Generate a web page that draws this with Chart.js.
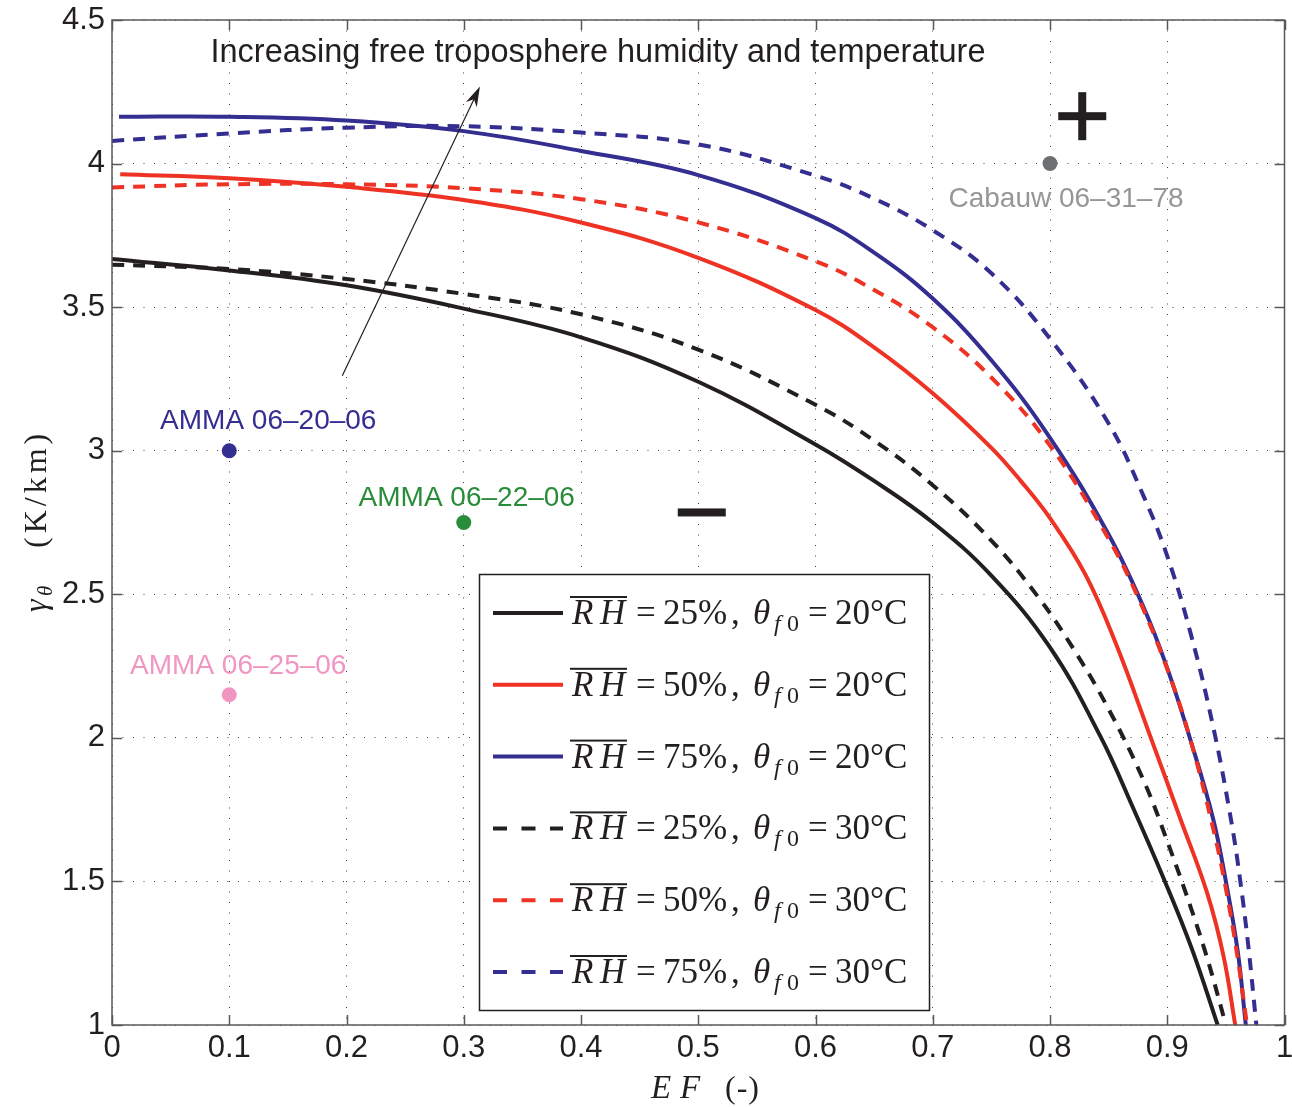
<!DOCTYPE html>
<html lang="en">
<head>
<meta charset="UTF-8">
<title>Lapse rate vs evaporative fraction</title>
<script src="https://cdn.jsdelivr.net/npm/chart.js"></script>
<style>
  body { margin: 0; background: #fff; }
  canvas { display: block; }
</style>
</head>
<body>
<canvas id="chart" width="1292" height="1107"></canvas>
<script>
// axis ticks
const xTickValues = [0, 0.1, 0.2, 0.3, 0.4, 0.5, 0.6, 0.7, 0.8, 0.9, 1];
const xTickLabels = ['0', '0.1', '0.2', '0.3', '0.4', '0.5', '0.6', '0.7', '0.8', '0.9', '1'];
const yTickValues = [1, 1.5, 2, 2.5, 3, 3.5, 4, 4.5];
const yTickLabels = ['1', '1.5', '2', '2.5', '3', '3.5', '4', '4.5'];

// RH = 25%, theta_f0 = 20 C (solid black)
const efRh25T20 = [0, 0.1, 0.2, 0.3, 0.4, 0.5, 0.6, 0.65, 0.7, 0.75, 0.8, 0.843, 0.871, 0.898, 0.921, 0.943];
const gamRh25T20 = [3.668, 3.628, 3.576, 3.495, 3.395, 3.24, 3.022, 2.895, 2.75, 2.565, 2.315, 2.005, 1.755, 1.5, 1.265, 1.0];
// RH = 50%, theta_f0 = 20 C (solid red)
const efRh50T20 = [0.007, 0.1, 0.2, 0.3, 0.4, 0.5, 0.6, 0.65, 0.7, 0.75, 0.775, 0.8, 0.83, 0.856, 0.886, 0.911, 0.934, 0.948, 0.958];
const gamRh50T20 = [3.963, 3.949, 3.919, 3.873, 3.795, 3.672, 3.49, 3.36, 3.2, 3.01, 2.895, 2.765, 2.57, 2.33, 2.0, 1.72, 1.46, 1.24, 1.0];
// RH = 75%, theta_f0 = 20 C (solid blue)
const efRh75T20 = [0.006, 0.1, 0.2, 0.3, 0.4, 0.5, 0.6, 0.65, 0.7, 0.75, 0.8, 0.85, 0.88, 0.9, 0.92, 0.939, 0.95, 0.96, 0.967];
const gamRh75T20 = [4.163, 4.163, 4.15, 4.113, 4.044, 3.96, 3.81, 3.69, 3.53, 3.315, 3.045, 2.708, 2.453, 2.243, 1.99, 1.72, 1.5, 1.26, 1.0];
// RH = 25%, theta_f0 = 30 C (dashed black)
const efRh25T30 = [0, 0.1, 0.2, 0.3, 0.4, 0.5, 0.6, 0.65, 0.7, 0.75, 0.79, 0.82, 0.85, 0.88, 0.9, 0.92, 0.935, 0.95];
const gamRh25T30 = [3.648, 3.633, 3.598, 3.546, 3.475, 3.352, 3.16, 3.035, 2.88, 2.687, 2.49, 2.31, 2.1, 1.85, 1.64, 1.41, 1.22, 1.0];
// RH = 50%, theta_f0 = 30 C (dashed red)
const efRh50T30 = [0, 0.1, 0.2, 0.3, 0.4, 0.5, 0.6, 0.65, 0.7, 0.75, 0.8, 0.85, 0.875, 0.9, 0.92, 0.94, 0.95, 0.96, 0.968];
const gamRh50T30 = [3.917, 3.928, 3.928, 3.914, 3.876, 3.795, 3.66, 3.56, 3.43, 3.255, 3.018, 2.693, 2.49, 2.24, 1.99, 1.67, 1.475, 1.235, 1.0];
// RH = 75%, theta_f0 = 30 C (dashed blue)
const efRh75T30 = [0, 0.1, 0.2, 0.3, 0.4, 0.5, 0.6, 0.65, 0.7, 0.75, 0.8, 0.85, 0.88, 0.9, 0.92, 0.94, 0.955, 0.962, 0.969, 0.976];
const gamRh75T30 = [4.079, 4.105, 4.125, 4.13, 4.108, 4.067, 3.958, 3.878, 3.768, 3.618, 3.39, 3.095, 2.84, 2.633, 2.363, 2.023, 1.7, 1.51, 1.28, 1.0];

const legendRH = [25, 50, 75, 25, 50, 75];
const legendTheta = [20, 20, 20, 30, 30, 30];

// observed cases
const obsNames = ['AMMA 06\u201320\u201306', 'AMMA 06\u201322\u201306', 'AMMA 06\u201325\u201306', 'Cabauw 06\u201331\u201378'];
const obsEF = [0.1, 0.3, 0.1, 0.8];
const obsGamma = [3.0, 2.75, 2.15, 4.0];

const BLACK = '#231f20';
const RED = 'rgb(238,50,36)';
const BLUE = 'rgb(52,46,145)';
const obsColors = [BLUE, 'rgb(40,140,58)', 'rgb(241,150,195)', 'rgb(110,111,114)'];
const obsTextColors = [BLUE, 'rgb(40,140,58)', 'rgb(241,150,195)', 'rgb(150,150,153)'];
const obsLabelOffset = [[39, -22], [3, -17], [9, -21], [16, 43]];

const curves = [
  { ef: efRh25T20, gam: gamRh25T20, color: BLACK, dashed: false },
  { ef: efRh50T20, gam: gamRh50T20, color: RED, dashed: false },
  { ef: efRh75T20, gam: gamRh75T20, color: BLUE, dashed: false },
  { ef: efRh25T30, gam: gamRh25T30, color: BLACK, dashed: true },
  { ef: efRh50T30, gam: gamRh50T30, color: RED, dashed: true },
  { ef: efRh75T30, gam: gamRh75T30, color: BLUE, dashed: true }
];

const datasets = curves.map((c, i) => ({
  label: 'RH=' + legendRH[i] + '%, theta=' + legendTheta[i] + 'C',
  data: c.ef.map((x, j) => ({ x: x, y: c.gam[j] })),
  showLine: true,
  borderColor: c.color,
  borderWidth: 4,
  borderDash: c.dashed ? [12, 9] : [],
  pointRadius: 0,
  tension: 0.4,
  clip: 0,
  order: 10 - i
}));
datasets.push({
  label: 'observations',
  data: obsEF.map((x, j) => ({ x: x, y: obsGamma[j] })),
  showLine: false,
  pointRadius: 7.5,
  pointBorderWidth: 0,
  pointBackgroundColor: obsColors,
  order: 0
});

const serif = '"Liberation Serif", "DejaVu Serif", serif';
const sans = '"Liberation Sans", Arial, sans-serif';

function drawLegendLabel(ctx, L, base, rh, th) {
  ctx.fillStyle = BLACK;
  ctx.textBaseline = 'alphabetic';
  ctx.textAlign = 'left';
  ctx.font = 'italic 35px ' + serif;
  ctx.fillText('R', L + 93, base);
  ctx.fillText('H', L + 121, base);
  ctx.fillRect(L + 91, base - 28, 57, 2);
  ctx.font = '35px ' + serif;
  ctx.fillText('=', L + 157, base);
  ctx.fillText(rh + '%', L + 184, base);
  ctx.fillText(',', L + 252, base);
  ctx.font = 'italic 35px ' + serif;
  ctx.fillText('\u03b8', L + 274, base);
  ctx.font = 'italic 24px ' + serif;
  ctx.fillText('f', L + 295, base + 7);
  ctx.font = '24px ' + serif;
  ctx.fillText('0', L + 308, base + 7);
  ctx.font = '35px ' + serif;
  ctx.fillText('=', L + 329, base);
  ctx.fillText(th + '\u00b0C', L + 356, base);
}

const decorPlugin = {
  id: 'decor',
  afterDatasetsDraw(chart) {
    const ctx = chart.ctx;
    const a = chart.chartArea;
    const xs = chart.scales.x, ys = chart.scales.y;
    ctx.save();

    // axes box with inward ticks
    ctx.strokeStyle = '#58595b';
    ctx.lineWidth = 1.5;
    ctx.strokeRect(a.left, a.top, a.right - a.left, a.bottom - a.top);
    ctx.beginPath();
    xTickValues.forEach(v => {
      const px = Math.round(xs.getPixelForValue(v)) + 0.5;
      ctx.moveTo(px, a.bottom); ctx.lineTo(px, a.bottom - 10);
      ctx.moveTo(px, a.top); ctx.lineTo(px, a.top + 10);
    });
    yTickValues.forEach(v => {
      const py = Math.round(ys.getPixelForValue(v)) + 0.5;
      ctx.moveTo(a.left, py); ctx.lineTo(a.left + 10, py);
      ctx.moveTo(a.right, py); ctx.lineTo(a.right - 10, py);
    });
    ctx.stroke();

    // observation labels
    ctx.font = '28px ' + sans;
    ctx.textAlign = 'center';
    ctx.textBaseline = 'alphabetic';
    obsNames.forEach((name, i) => {
      ctx.fillStyle = obsTextColors[i];
      ctx.fillText(name, xs.getPixelForValue(obsEF[i]) + obsLabelOffset[i][0],
        ys.getPixelForValue(obsGamma[i]) + obsLabelOffset[i][1]);
    });

    // annotation text and arrow
    ctx.fillStyle = BLACK;
    ctx.font = '32.5px ' + sans;
    ctx.fillText('Increasing free troposphere humidity and temperature', 598, 62);
    const x0 = xs.getPixelForValue(0.1964), y0 = ys.getPixelForValue(3.261);
    const x1 = xs.getPixelForValue(0.3138), y1 = ys.getPixelForValue(4.268);
    const ang = Math.atan2(y1 - y0, x1 - x0);
    ctx.strokeStyle = BLACK;
    ctx.lineWidth = 1.2;
    ctx.beginPath();
    ctx.moveTo(x0, y0);
    ctx.lineTo(x1 - 12 * Math.cos(ang), y1 - 12 * Math.sin(ang));
    ctx.stroke();
    ctx.beginPath();
    ctx.moveTo(x1, y1);
    ctx.lineTo(x1 - 20 * Math.cos(ang) + 6 * Math.sin(ang), y1 - 20 * Math.sin(ang) - 6 * Math.cos(ang));
    ctx.lineTo(x1 - 14 * Math.cos(ang), y1 - 14 * Math.sin(ang));
    ctx.lineTo(x1 - 20 * Math.cos(ang) - 6 * Math.sin(ang), y1 - 20 * Math.sin(ang) + 6 * Math.cos(ang));
    ctx.closePath();
    ctx.fill();

    // plus and minus marks
    const pxp = xs.getPixelForValue(0.8275), pyp = ys.getPixelForValue(4.165);
    ctx.fillRect(pxp - 24, pyp - 4, 48, 8);
    ctx.fillRect(pxp - 4, pyp - 24, 8, 48);
    const pxm = xs.getPixelForValue(0.503), pym = ys.getPixelForValue(2.785);
    ctx.fillRect(pxm - 24, pym - 4, 48, 8);

    // legend
    const L = 479, T = 574, R = 929, B = 1010;
    ctx.fillStyle = '#fff';
    ctx.fillRect(L, T, R - L, B - T);
    ctx.strokeStyle = BLACK;
    ctx.lineWidth = 1.5;
    ctx.strokeRect(L + 0.5, T + 0.5, R - L, B - T);
    curves.forEach((c, i) => {
      const y = T + 39 + i * 71.8;
      ctx.beginPath();
      ctx.setLineDash(c.dashed ? [14, 14.5] : []);
      ctx.strokeStyle = c.color;
      ctx.lineWidth = 4;
      ctx.moveTo(L + 14, y);
      ctx.lineTo(L + 84, y);
      ctx.stroke();
      ctx.setLineDash([]);
      drawLegendLabel(ctx, L, y + 11, legendRH[i], legendTheta[i]);
    });

    // axis titles
    ctx.fillStyle = BLACK;
    ctx.textAlign = 'left';
    ctx.font = 'italic 33px ' + serif;
    ctx.fillText('E', 651, 1098);
    ctx.fillText('F', 680, 1098);
    ctx.font = '32px ' + serif;
    ctx.letterSpacing = '1px';
    ctx.fillText('(-)', 725, 1098);
    ctx.letterSpacing = '0px';

    ctx.save();
    ctx.translate(46, 612);
    ctx.rotate(-Math.PI / 2);
    ctx.font = 'italic 32px ' + serif;
    ctx.fillText('\u03b3', 0, 0);
    ctx.font = 'italic 21px ' + serif;
    ctx.fillText('\u03b8', 16, 6);
    ctx.font = '32px ' + serif;
    ctx.letterSpacing = '4px';
    ctx.fillText('(K/km)', 64, 0);
    ctx.restore();

    ctx.restore();
  }
};

new Chart(document.getElementById('chart'), {
  type: 'scatter',
  data: { datasets: datasets },
  options: {
    responsive: false,
    animation: false,
    devicePixelRatio: 1,
    layout: { padding: { top: 20, right: 4, left: 0, bottom: 0 } },
    plugins: { legend: { display: false }, tooltip: { enabled: false } },
    scales: {
      x: {
        type: 'linear', min: 0, max: 1,
        afterBuildTicks: s => { s.ticks = xTickValues.map(v => ({ value: v })); },
        ticks: {
          callback: (v, i) => xTickLabels[i],
          font: { family: sans, size: 31 }, color: BLACK, padding: 5, maxRotation: 0, autoSkip: false
        },
        grid: { color: 'rgba(35,31,32,0.85)', lineWidth: 1, drawTicks: false },
        border: { display: false, dash: [1, 9.5] },
        afterFit: s => { s.height = 82; s.paddingLeft = 0; s.paddingRight = 0; }
      },
      y: {
        type: 'linear', min: 1, max: 4.5,
        afterBuildTicks: s => { s.ticks = yTickValues.map(v => ({ value: v })); },
        ticks: {
          callback: (v, i) => yTickLabels[i],
          font: { family: sans, size: 31 }, color: BLACK, padding: 7, autoSkip: false
        },
        grid: { color: 'rgba(35,31,32,0.85)', lineWidth: 1, drawTicks: false },
        border: { display: false, dash: [1, 9.5] },
        afterFit: s => { s.width = 112; s.paddingTop = 0; s.paddingBottom = 0; }
      }
    }
  },
  plugins: [decorPlugin]
});
</script>
</body>
</html>
